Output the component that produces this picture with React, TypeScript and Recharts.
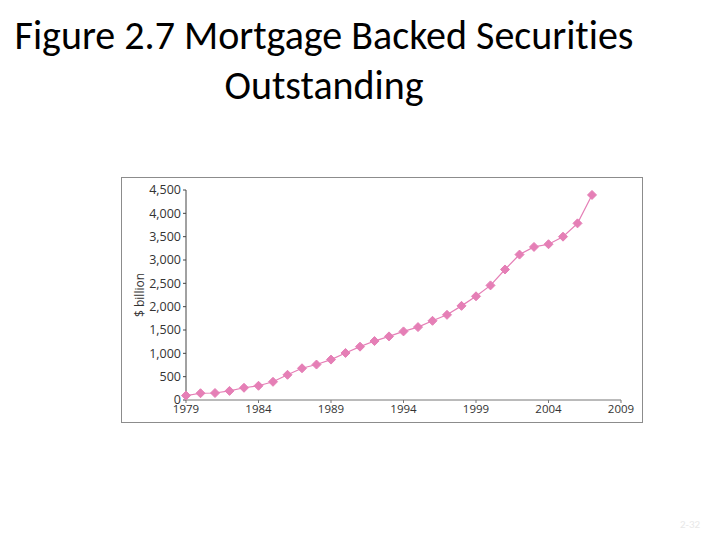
import React from 'react'
import { LineChart, Line, XAxis, YAxis } from 'recharts'

const years = [
  1979, 1980, 1981, 1982, 1983, 1984, 1985, 1986, 1987, 1988, 1989, 1990, 1991, 1992, 1993,
  1994, 1995, 1996, 1997, 1998, 1999, 2000, 2001, 2002, 2003, 2004, 2005, 2006, 2007,
]
const outstanding = [
  95, 145, 150, 195, 262, 305, 390, 540, 680, 760, 866, 1008, 1143, 1263, 1363,
  1470, 1562, 1697, 1825, 2017, 2222, 2456, 2797, 3116, 3280, 3338, 3500, 3785, 4394,
]
const xTicks = [1979, 1984, 1989, 1994, 1999, 2004, 2009]
const yTicks = [0, 500, 1000, 1500, 2000, 2500, 3000, 3500, 4000, 4500]

const PINK = '#e57fb6'

const data = years.map((year, i) => ({ year, value: outstanding[i] }))

function Diamond(props: any) {
  const { cx, cy, index } = props
  if (cx == null || cy == null) return null
  const r = 4.5
  return (
    <path
      key={index}
      d={`M${cx},${cy - r} L${cx + r},${cy} L${cx},${cy + r} L${cx - r},${cy} Z`}
      fill={PINK}
      stroke={PINK}
      strokeWidth={1}
      strokeLinejoin="round"
    />
  )
}

export default function App() {
  return (
    <div
      style={{
        position: 'relative',
        width: 720,
        height: 540,
        margin: -8,
        background: '#fff',
        fontFamily: "Carlito, 'Liberation Sans', sans-serif",
      }}
    >
      <div
        style={{
          position: 'absolute',
          left: 0,
          top: 11,
          width: 648,
          textAlign: 'center',
          fontSize: 40,
          lineHeight: '50px',
          color: '#000',
          fontVariantLigatures: 'none',
          whiteSpace: 'nowrap',
        }}
      >
        Figure 2.7 Mortgage Backed Securities
        <br />
        Outstanding
      </div>

      <div
        style={{
          position: 'absolute',
          left: 121,
          top: 177,
          width: 520,
          height: 244,
          border: '1px solid #8c8c8c',
        }}
      >
        <LineChart
          width={520}
          height={244}
          data={data}
          margin={{ top: 12, right: 21, bottom: 0, left: 0 }}
          style={{ fontFamily: "'Open Sans', 'DejaVu Sans', sans-serif" }}
        >
          <XAxis
            dataKey="year"
            type="number"
            domain={[1979, 2009]}
            ticks={xTicks}
            interval={0}
            height={22}
            tickSize={3}
            tick={{ fill: '#333', fontSize: 11.5 }}
            axisLine={{ stroke: '#777' }}
            tickLine={{ stroke: '#777' }}
          />
          <YAxis
            domain={[0, 4500]}
            ticks={yTicks}
            interval={0}
            width={64}
            tickSize={3}
            tickFormatter={(v: number) => v.toLocaleString('en-US')}
            tick={{ fill: '#333', fontSize: 12.5 }}
            axisLine={{ stroke: '#444' }}
            tickLine={{ stroke: '#444' }}
            label={{
              value: '$ billion',
              angle: -90,
              position: 'insideLeft',
              offset: 18,
              style: { fill: '#333', fontSize: 12, textAnchor: 'middle' },
            }}
          />
          <Line
            type="linear"
            dataKey="value"
            stroke={PINK}
            strokeWidth={1.2}
            dot={Diamond}
            activeDot={false}
            isAnimationActive={false}
          />
        </LineChart>
      </div>

      <div
        style={{
          position: 'absolute',
          left: 680,
          top: 518,
          fontSize: 11,
          color: '#e8e8e8',
        }}
      >
        2-32
      </div>
    </div>
  )
}
